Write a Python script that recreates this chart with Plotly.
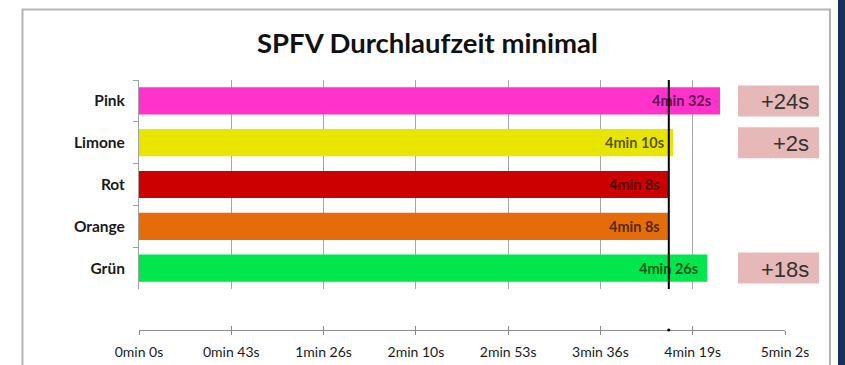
import plotly.graph_objects as go

# Runner teams and their minimal lap time in seconds
teams = ["Pink", "Limone", "Rot", "Orange", "Grün"]
seconds = [272, 250, 248, 248, 266]
bar_colors = ["#FF33CC", "#E8E600", "#CC0000", "#E46C0A", "#00E64C"]
bar_labels = ["4min 32s", "4min 10s", "4min 8s", "4min 8s", "4min 26s"]

# Axis ticks (0.0005 day steps)
tick_values = [0, 43.2, 86.4, 129.6, 172.8, 216.0, 259.2, 302.4]
tick_labels = ["0min 0s", "0min 43s", "1min 26s", "2min 10s",
               "2min 53s", "3min 36s", "4min 19s", "5min 2s"]

best = min(seconds)
gaps = [s - best for s in seconds]

W, H = 845, 365
ML, MR, MT, MB = 139, 60, 80, 35
PW, PH = W - ML - MR, H - MT - MB


def px_x(p):
    return (p - ML) / PW


def px_y(p):
    return (H - MB - p) / PH


y_bottom = px_y(289)

fig = go.Figure()

fig.add_trace(go.Bar(
    y=teams, x=seconds, orientation="h",
    marker=dict(color=bar_colors, line=dict(width=0)),
    width=0.65, showlegend=False, hoverinfo="skip",
))

# Invisible point so the overlay axis (for the inner tick halves) is drawn
fig.add_trace(go.Scatter(
    x=[0], y=[teams[0]], xaxis="x2", mode="markers",
    marker=dict(opacity=0), showlegend=False, hoverinfo="skip",
))

annotations = []
shapes = []

# Reference line at the fastest time
shapes.append(dict(
    type="line", xref="x", yref="paper", x0=best, x1=best, y0=y_bottom, y1=1,
    line=dict(color="black", width=2), layer="above",
))

# Value labels inside bar ends
for t, s, lab in zip(teams, seconds, bar_labels):
    annotations.append(dict(
        x=s, y=t, xref="x", yref="y", text=lab, showarrow=False,
        xanchor="right", xshift=-7,
        font=dict(family="Lato, sans-serif", size=14.5, color="rgba(0,0,0,0.65)", weight="bold"),
    ))

# Gap boxes on the right for teams slower than the best
row_px = 41.8
for i, (t, g) in enumerate(zip(teams, gaps)):
    if g <= 0:
        continue
    cy = 80 + row_px * (i + 0.5)
    shapes.append(dict(
        type="rect", xref="paper", yref="paper",
        x0=px_x(738), x1=px_x(819), y0=px_y(cy + 15.5), y1=px_y(cy - 15.5),
        fillcolor="#E6B9B8", line=dict(width=0), layer="above",
    ))
    annotations.append(dict(
        x=px_x(811), y=px_y(cy + 1), xref="paper", yref="paper",
        text=f"+{g}s", showarrow=False, xanchor="right", yanchor="middle",
        font=dict(family="Liberation Sans Narrow, Arial Narrow, sans-serif", size=22, color="#333333"),
    ))

# Title
annotations.append(dict(
    x=px_x(427), y=px_y(42), xref="paper", yref="paper",
    text="<b>SPFV Durchlaufzeit minimal</b>", showarrow=False,
    xanchor="center", yanchor="middle",
    font=dict(family="Lato, sans-serif", size=27.5, color="#111111"),
))

# Chart frame and side strip
shapes.append(dict(
    type="rect", xref="paper", yref="paper",
    x0=px_x(22.5), x1=px_x(830), y0=px_y(380), y1=px_y(9.5),
    line=dict(color="#B4B4B4", width=2), fillcolor="rgba(0,0,0,0)", layer="below",
))
shapes.append(dict(
    type="rect", xref="paper", yref="paper",
    x0=px_x(838), x1=px_x(846), y0=px_y(366), y1=px_y(-1),
    line=dict(width=0), fillcolor="#16325C", layer="above",
))

# Small marker where the reference line meets the axis
shapes.append(dict(
    type="circle", xref="x", yref="paper", xsizemode="pixel", ysizemode="pixel",
    xanchor=best, yanchor=0, x0=-1.6, x1=1.6, y0=-1.6, y1=1.6,
    fillcolor="black", line=dict(width=0), layer="above",
))

fig.update_layout(
    width=W, height=H,
    margin=dict(l=ML, r=MR, t=MT, b=MB, autoexpand=False),
    paper_bgcolor="white", plot_bgcolor="white",
    annotations=annotations, shapes=shapes,
    xaxis=dict(
        range=[0, 302.4], tickmode="array", tickvals=tick_values, ticktext=tick_labels,
        anchor="free", position=0, automargin=False,
        showgrid=True, gridcolor="#A8A8A8", gridwidth=1,
        showline=True, linecolor="#8C8C8C", linewidth=1,
        ticks="outside", ticklen=4, tickcolor="#8C8C8C",
        zeroline=False,
        tickfont=dict(family="Lato, sans-serif", size=14, color="#1A1A1A"),
        ticklabelstandoff=5,
        fixedrange=True,
    ),
    xaxis2=dict(
        range=[0, 302.4], tickmode="array", tickvals=tick_values,
        overlaying="x", anchor="free", position=0, automargin=False,
        showgrid=False, showline=False, showticklabels=False,
        ticks="inside", ticklen=4, tickcolor="#8C8C8C", zeroline=False,
        fixedrange=True,
    ),
    yaxis=dict(
        type="category", domain=[y_bottom, 1], automargin=False,
        categoryorder="array", categoryarray=teams, autorange="reversed",
        showline=True, linecolor="#A0A0A0", linewidth=1,
        ticks="outside", ticklen=5, tickcolor="#A0A0A0", tickson="boundaries",
        showgrid=False, zeroline=False,
        tickfont=dict(family="Lato, sans-serif", size=15.5, color="#1A1A1A", weight="bold"),
        ticklabelstandoff=10,
        fixedrange=True,
    ),
)

fig.write_html("out.html", config={"displayModeBar": False})
